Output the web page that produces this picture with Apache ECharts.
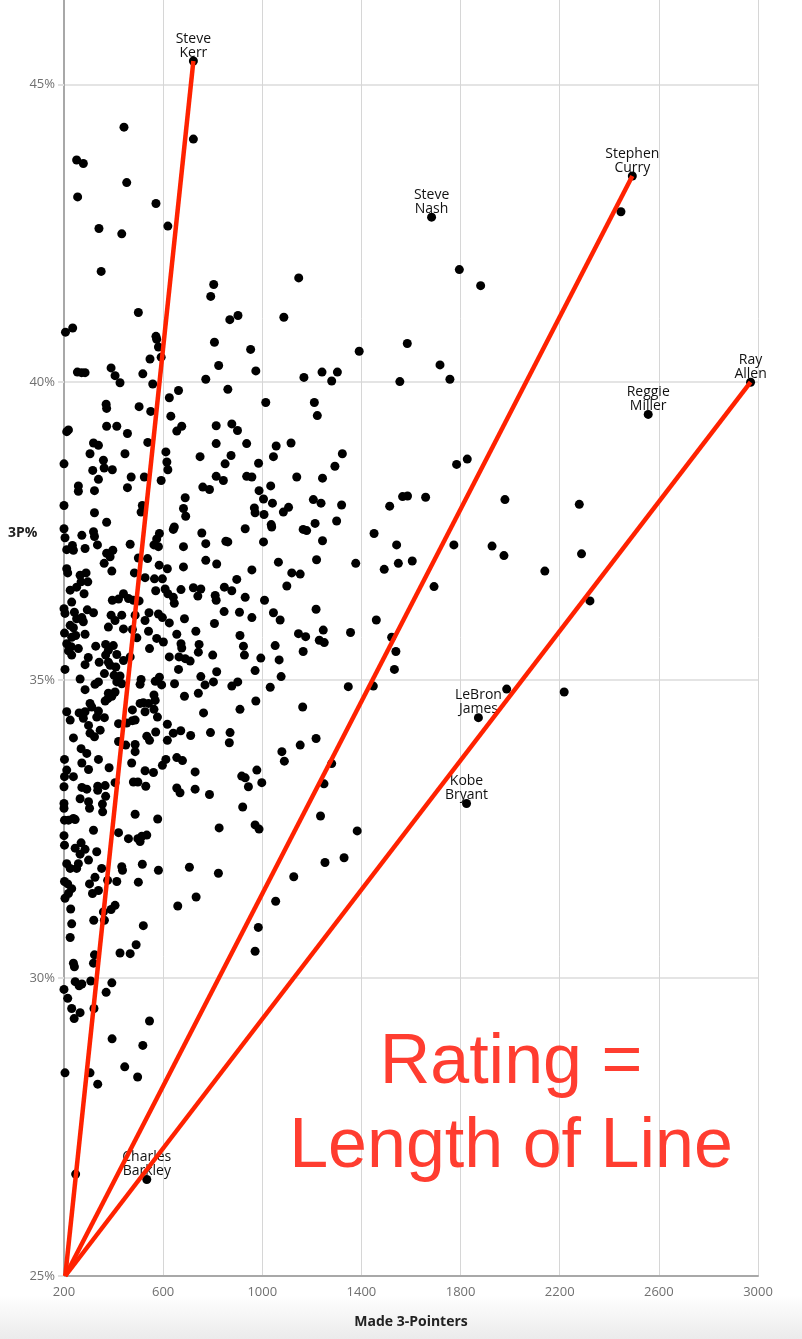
<!DOCTYPE html>
<html><head><meta charset="utf-8">
<script src="https://cdn.jsdelivr.net/npm/echarts@6/dist/echarts.min.js"></script>
<style>html,body{margin:0;padding:0;background:#fff}#chart{width:802px;height:1339px}</style>
</head><body><div id="chart"></div>
<script>
// [made 3-pointers, career 3P%]
const players = [
[442,44.28],[722,44.08],[251,43.73],[278,43.67],[453,43.35],[255,43.11],[571,43.00],[619,42.62],[341,42.58],[433,42.49],[350,41.86],[1147,41.75],[804,41.64],[792,41.44],[500,41.17],[869,41.05],[902,41.12],[1087,41.09],[206,40.84],[235,40.91],[571,40.77],[574,40.72],[581,40.59],[807,40.67],[953,40.55],[547,40.39],[592,40.42],[824,40.28],[390,40.24],[406,40.11],[254,40.17],[271,40.16],[285,40.16],[518,40.14],[974,40.19],[772,40.05],
[426,39.99],[558,39.97],[662,39.86],[861,39.88],[625,39.74],[370,39.63],[372,39.56],[503,39.59],[550,39.51],[1014,39.66],[631,39.43],[372,39.26],[413,39.26],[218,39.20],[211,39.17],[456,39.14],[655,39.18],[675,39.26],[814,39.27],[877,39.30],[900,39.19],[319,38.98],[339,38.94],[305,38.80],[446,38.80],[538,38.99],[814,38.97],[937,38.97],[1056,38.93],[1116,38.98],[1045,38.75],[985,38.64],[200,38.63],[359,38.69],[362,38.56],[316,38.52],[395,38.53],[611,38.83],[615,38.66],[619,38.53],[749,38.75],[850,38.63],[874,38.77],[339,38.37],[471,38.41],[524,38.41],[592,38.35],[814,38.42],[843,38.35],[937,38.42],[958,38.41],[1139,38.41],[258,38.26],[258,38.17],[323,38.18],[456,38.23],[760,38.24],[787,38.20],[987,38.18],[1034,38.26],[200,37.93],[323,37.81],[516,37.93],[511,37.82],[689,38.06],[682,37.88],[691,37.75],[1005,38.04],[1041,37.97],[968,37.89],[971,37.81],[1007,37.78],[1085,37.82],[1106,37.90],[200,37.54],[372,37.65],[204,37.39],[272,37.43],[319,37.49],[323,37.41],[335,37.27],[467,37.28],[585,37.46],[574,37.37],[563,37.27],[581,37.24],[641,37.53],[645,37.57],[756,37.47],[772,37.29],[853,37.33],[861,37.32],[931,37.54],[1005,37.32],[1036,37.61],[1038,37.57],[211,37.19],[234,37.26],[285,37.21],[238,37.18],[372,37.13],[397,37.18],[386,37.07],[362,36.96],[500,37.05],[537,37.04],[682,37.24],[772,37.01],[816,36.95],[1065,36.98],[211,36.87],[215,36.80],[265,36.76],[289,36.80],[296,36.65],[269,36.65],[251,36.56],[225,36.51],[281,36.45],[393,36.83],[484,36.80],[527,36.72],[565,36.70],[584,36.93],[617,36.87],[597,36.70],[682,36.90],[958,36.85],[897,36.69],[1119,36.80],[1153,36.78],[1099,36.58],[570,36.50],[608,36.53],[619,36.45],[641,36.39],[645,36.29],[672,36.52],[722,36.55],[752,36.53],[740,36.41],[810,36.42],[814,36.34],[847,36.56],[877,36.50],[931,36.39],[1009,36.34],[231,36.31],[395,36.34],[420,36.36],[440,36.45],[460,36.37],[480,36.34],[503,36.33],[200,36.20],[204,36.12],[242,36.14],[251,36.03],[294,36.18],[319,36.13],[390,36.09],[406,36.00],[433,36.09],[487,36.09],[527,36.00],[543,36.13],[581,36.11],[597,36.05],[625,35.96],[686,36.03],[807,35.95],[846,36.15],[908,36.14],[958,36.05],[1045,36.13],[1072,36.01],[225,35.92],[238,35.88],[272,36.05],[278,35.98],[202,35.79],[285,35.77],[231,35.72],[247,35.75],[379,35.89],[440,35.86],[476,35.85],[494,35.71],[541,35.82],[574,35.70],[601,35.64],[655,35.77],[732,35.82],[910,35.75],[1146,35.78],[211,35.61],[229,35.56],[218,35.49],[258,35.53],[328,35.57],[368,35.60],[399,35.58],[379,35.50],[368,35.42],[413,35.43],[231,35.42],[545,35.53],[672,35.61],[675,35.54],[745,35.60],[742,35.47],[924,35.57],[928,35.42],[1052,35.58],[298,35.38],[342,35.30],[379,35.30],[386,35.25],[409,35.22],[467,35.39],[440,35.33],[285,35.26],[625,35.39],[664,35.39],[689,35.36],[709,35.32],[662,35.18],[800,35.42],[816,35.14],[971,35.16],[994,35.37],[1068,35.34],[204,35.18],[265,35.02],[363,35.11],[402,35.08],[426,35.07],[511,35.01],[585,35.05],[752,35.06],[1076,35.06],
[285,34.84],[325,34.93],[339,34.97],[413,34.97],[433,34.94],[507,34.93],[568,34.98],[594,34.92],[646,34.94],[686,34.73],[742,34.78],[769,34.92],[803,34.97],[877,34.90],[901,34.97],[1032,34.88],[974,34.65],[305,34.61],[312,34.55],[379,34.78],[377,34.69],[393,34.73],[406,34.80],[366,34.65],[507,34.61],[520,34.62],[541,34.61],[563,34.75],[568,34.66],[476,34.50],[527,34.47],[563,34.51],[577,34.38],[763,34.45],[910,34.51],[211,34.47],[225,34.33],[261,34.45],[285,34.47],[278,34.36],[299,34.24],[339,34.48],[332,34.38],[363,34.37],[420,34.27],[453,34.28],[476,34.32],[487,34.33],[346,34.16],[305,34.11],[323,34.05],[238,34.03],[420,33.97],[449,33.91],[487,33.92],[487,33.80],[473,33.61],[534,34.06],[545,33.99],[570,34.13],[617,34.26],[617,33.99],[641,34.11],[671,34.15],[711,34.07],[791,34.12],[870,34.12],[867,33.95],[1153,33.91],[1079,33.80],[1089,33.64],[202,33.67],[269,33.85],[292,33.77],[272,33.61],[299,33.50],[339,33.67],[382,33.53],[211,33.49],[238,33.38],[202,33.38],[200,33.21],[272,33.20],[292,33.17],[336,33.22],[336,33.15],[366,33.23],[368,33.05],[406,33.28],[480,33.29],[498,33.29],[530,33.22],[527,33.48],[561,33.45],[597,33.57],[611,33.67],[655,33.70],[678,33.65],[729,33.46],[655,33.19],[668,33.11],[729,33.17],[787,33.08],[917,33.39],[931,33.36],[978,33.49],[998,33.28],[944,33.21],[200,32.93],[200,32.85],[265,33.01],[299,32.96],[303,32.85],[355,32.92],[356,32.79],[238,32.68],[202,32.65],[218,32.65],[245,32.66],[319,32.48],[487,32.75],[578,32.67],[826,32.52],[971,32.57],[987,32.50],[921,32.87],[200,32.39],[202,32.23],[269,32.27],[285,32.16],[245,32.18],[265,32.08],[299,31.98],[332,32.12],[420,32.44],[460,32.34],[498,32.34],[507,32.29],[534,32.40],[514,32.38],[211,31.92],[225,31.84],[251,31.84],[258,31.92],[352,31.84],[325,31.69],[202,31.62],[215,31.58],[231,31.50],[204,31.34],[218,31.42],[303,31.58],[339,31.47],[315,31.42],[376,31.64],[413,31.62],[433,31.87],[436,31.81],[516,31.91],[500,31.61],[581,31.81],[706,31.86],[823,31.76],[1127,31.70],[227,31.16],[231,30.91],[225,30.68],[359,31.11],[390,31.15],[406,31.22],[320,30.97],[363,30.97],[520,30.88],[491,30.56],[426,30.42],[467,30.41],[323,30.39],[319,30.25],[238,30.25],[242,30.19],[659,31.21],[733,31.36],[1054,31.29],[984,30.85],[971,30.45],
[200,29.81],[215,29.66],[231,29.49],[241,29.32],[265,29.42],[321,29.49],[370,29.76],[393,29.92],[245,29.94],[272,29.90],[261,29.87],[308,29.95],[545,29.28],[394,28.98],[518,28.87],[445,28.51],[497,28.34],[204,28.41],[305,28.41],[336,28.22],[247,26.71],
[1795,41.89],[1881,41.62],[1391,40.52],[1585,40.65],[1717,40.29],[1757,40.05],[1555,40.01],[1168,40.08],[1241,40.17],[1280,40.02],[1303,40.17],[1210,39.66],[1222,39.44],[1323,38.80],[1293,38.59],[1243,38.39],[1206,38.03],[1237,37.97],[1320,37.94],[1514,37.92],[1566,38.08],[1586,38.09],[1659,38.07],[1784,38.62],[1827,38.71],[1979,38.03],[2447,42.86],
[1213,37.63],[1165,37.53],[1179,37.51],[1300,37.67],[1451,37.46],[1243,37.34],[1542,37.27],[1773,37.27],[1927,37.25],[1975,37.09],[1219,37.02],[1377,36.96],[1492,36.86],[1549,36.96],[1605,37.00],[1693,36.57],[1217,36.19],[1460,36.01],[1175,35.73],[1246,35.84],[1230,35.67],[1250,35.63],[1165,35.48],[1356,35.80],[1522,35.72],[1539,35.48],[1533,35.18],[1347,34.89],[1448,34.90],[1986,34.85],[1163,34.55],[1217,34.02],[1280,33.60],[1249,33.26],[1235,32.72],
[2279,37.95],[2288,37.12],[2140,36.83],[2322,36.33],[2218,34.80],[1383,32.47],[1253,31.94],[1330,32.02]
];

const starNames = ['Steve\nKerr','Stephen\nCurry','Steve\nNash','Ray\nAllen','Reggie\nMiller','LeBron\nJames','Kobe\nBryant','Charles\nBarkley'];
const starMade  = [722, 2493, 1683, 2970, 2557, 1872, 1824, 534];
const starPct   = [45.39, 43.46, 42.77, 40.00, 39.46, 34.37, 32.93, 26.62];
const ratedStars = ['Steve\nKerr', 'Stephen\nCurry', 'Ray\nAllen'];
const lineOrigin = [205, 25];
const yTickStep = 5;

const chart = echarts.init(document.getElementById('chart'), null, {renderer: 'canvas'});
const FONT = '"Open Sans", "Noto Sans", sans-serif';

const series = [
  {
    type: 'scatter', data: players, symbolSize: 9, z: 2, silent: true,
    itemStyle: {color: '#000', opacity: 1}
  },
  {
    type: 'scatter', z: 3, symbolSize: 9, silent: true,
    itemStyle: {color: '#000', opacity: 1},
    data: starNames.map((n, i) => ({name: n, value: [starMade[i], starPct[i]]})),
    label: {show: true, position: 'top', distance: 0, offset: [0, 3], formatter: '{b}', color: '#111',
      fontSize: 14, lineHeight: 14, fontFamily: FONT, opacity: 1}
  }
];
ratedStars.forEach(n => {
  const i = starNames.indexOf(n);
  series.push({
    type: 'line', z: 4, silent: true, symbol: 'none', animation: false,
    lineStyle: {color: '#ff2200', width: 4.5, opacity: 1},
    data: [lineOrigin, [starMade[i], starPct[i]]]
  });
});

chart.setOption({
  animation: false,
  backgroundColor: '#fff',
  grid: {left: 64, right: 44, top: -20, bottom: 63, containLabel: false, outerBoundsMode: 'none'},
  xAxis: {
    type: 'value', min: 200, max: 3000, interval: 400,
    name: 'Made 3-Pointers', nameLocation: 'middle', nameGap: 39,
    nameTextStyle: {fontWeight: 'bold', fontSize: 14, color: '#222', fontFamily: FONT},
    axisLine: {show: true, onZero: false, lineStyle: {color: '#a8a8a8', width: 2}},
    axisTick: {show: false},
    axisLabel: {color: '#707070', fontSize: 13, margin: 10, fontFamily: FONT, formatter: v => String(v)},
    splitLine: {show: true, lineStyle: {color: '#d6d6d6', width: 1}}
  },
  yAxis: {
    type: 'value', min: 25, max: 46.75, interval: yTickStep,
    axisLine: {show: true, onZero: false, lineStyle: {color: '#a8a8a8', width: 2}},
    axisTick: {show: true, length: 6, lineStyle: {color: '#e0e0e0', width: 2}},
    axisLabel: {color: '#707070', fontSize: 13, margin: 9, fontFamily: FONT,
      formatter: v => (Math.abs(v % yTickStep) < 1e-6 ? v + '%' : '')},
    splitLine: {show: true, lineStyle: {color: '#e4e4e4', width: 2}}
  },
  graphic: [
    {type: 'rect', z: -10, left: 0, top: 1295, silent: true,
      shape: {width: 802, height: 44},
      style: {fill: {type: 'linear', x: 0, y: 0, x2: 0, y2: 1,
        colorStops: [{offset: 0, color: '#ffffff'}, {offset: 1, color: '#ebebeb'}]}}},
    {type: 'text', x: 8, y: 533, silent: true,
      style: {text: '3P%', fill: '#222', font: 'bold 14px ' + FONT, verticalAlign: 'middle', textVerticalAlign: 'middle'}},
    {type: 'text', x: 511, y: 1064, silent: true, z: 10,
      style: {text: 'Rating =', fill: '#ff3d30', font: '70px "Liberation Sans", Arial, sans-serif',
        align: 'center', textAlign: 'center', verticalAlign: 'middle', textVerticalAlign: 'middle'}},
    {type: 'text', x: 511, y: 1148, silent: true, z: 10,
      style: {text: 'Length of Line', fill: '#ff3d30', font: '70px "Liberation Sans", Arial, sans-serif',
        align: 'center', textAlign: 'center', verticalAlign: 'middle', textVerticalAlign: 'middle'}}
  ],
  series: series
});
</script>
</body></html>
